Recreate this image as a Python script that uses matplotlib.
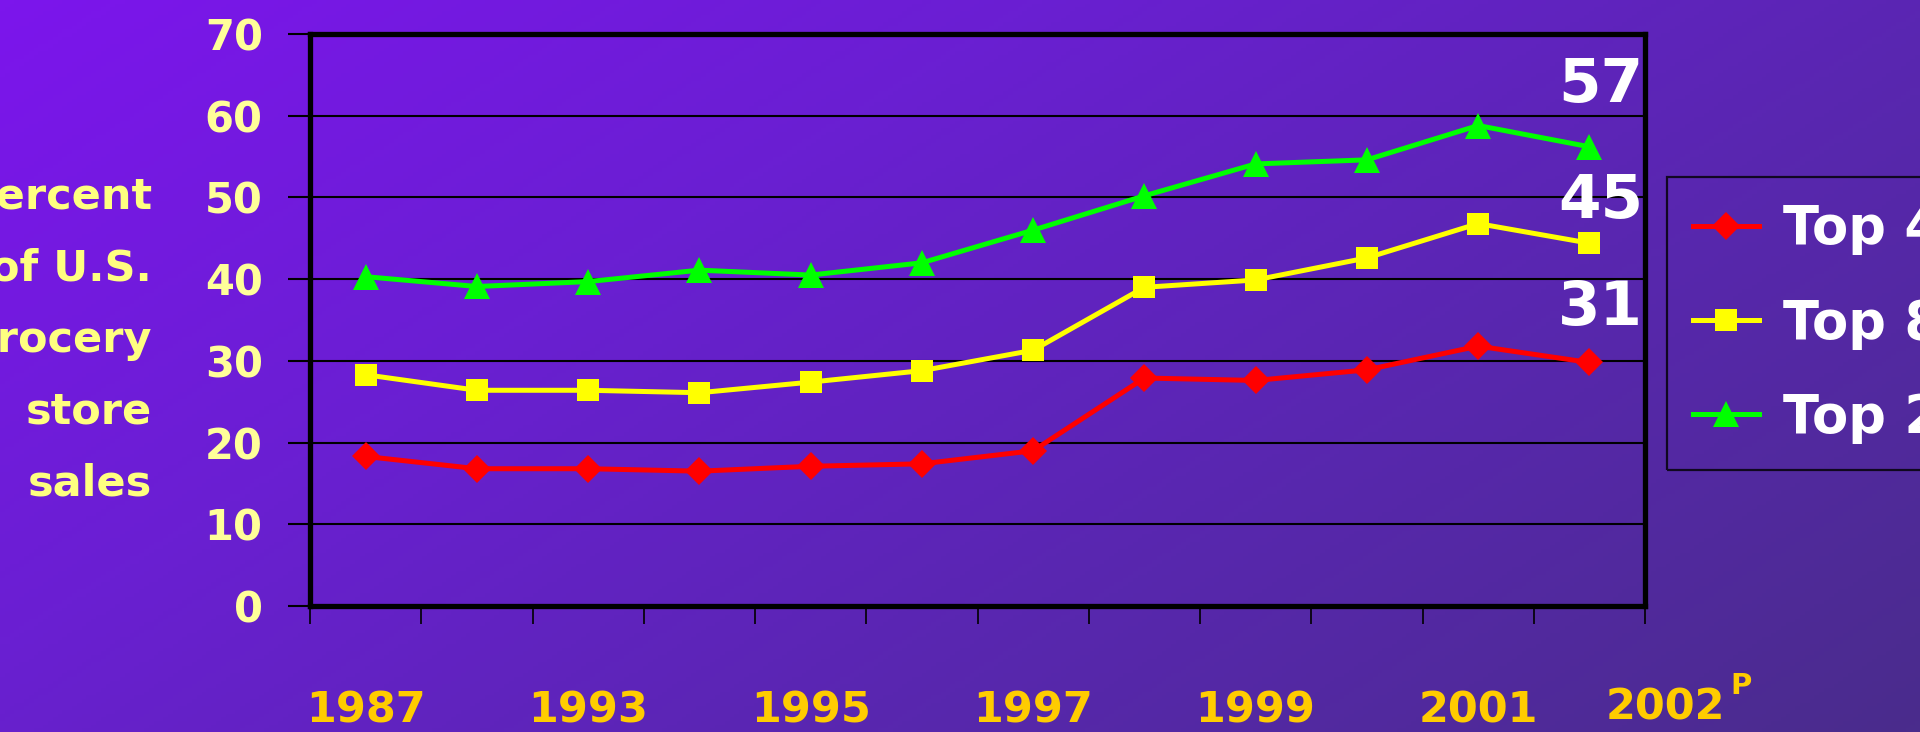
import matplotlib
matplotlib.use("Agg")
import matplotlib.pyplot as plt
import numpy as np
from matplotlib.colors import LinearSegmentedColormap

# data
years = ["1987", "1992", "1993", "1994", "1995", "1996",
         "1997", "1998", "1999", "2000", "2001", "2002"]
shown_years = ["1987", "1993", "1995", "1997", "1999", "2001"]
top4 = [18.3, 16.8, 16.8, 16.5, 17.1, 17.4, 19.0, 27.9, 27.6, 28.9, 31.8, 29.8]
top8 = [28.3, 26.4, 26.4, 26.1, 27.4, 28.8, 31.3, 39.0, 39.9, 42.6, 46.8, 44.4]
top20 = [40.3, 39.1, 39.7, 41.1, 40.5, 42.0, 46.0, 50.2, 54.1, 54.6, 58.8, 56.2]
series_names = ["Top 4", "Top 8", "Top 20"]
end_labels = ["57", "45", "31"]
y_ticks = [0, 10, 20, 30, 40, 50, 60, 70]

FONT = "DejaVu Sans"


def draw_background(fig):
    bg = fig.add_axes([0, 0, 1, 1], zorder=-10)
    xx, yy = np.meshgrid(np.linspace(0, 1, 400), np.linspace(0, 1, 200))
    grad = (xx * 0.62 + yy * 0.38)
    cmap = LinearSegmentedColormap.from_list(
        "slide", ["#7C15EC", "#6A1FD2", "#5827AE", "#4A2C8C"])
    bg.imshow(grad, cmap=cmap, aspect="auto", extent=[0, 1, 0, 1],
              origin="upper")
    bg.axis("off")


def main():
    fig = plt.figure(figsize=(19.2, 7.32), dpi=100)
    draw_background(fig)

    ax = fig.add_axes([310 / 1920, 1 - 606 / 732, 1335 / 1920, 572 / 732])
    ax.set_facecolor("none")
    x = np.arange(len(years))

    styles = [("#FF0000", "D", 14), ("#FFFF00", "s", 16), ("#00FF00", "^", 19)]
    handles = []
    for vals, name, (col, mk, ms) in zip([top4, top8, top20], series_names, styles):
        h, = ax.plot(x, vals, color=col, lw=3.6, marker=mk, ms=ms,
                     markeredgewidth=0, label=name, zorder=5, clip_on=False)
        handles.append(h)

    ax.set_xlim(-0.5, len(years) - 0.5)
    ax.set_ylim(0, 70)
    ax.set_yticks(y_ticks)
    ax.set_yticklabels([str(v) for v in y_ticks], color="#FFFF99",
                       fontsize=30, fontweight="bold", family=FONT)
    ax.yaxis.grid(True, color="black", lw=1.5)
    ax.tick_params(axis="y", length=16, width=1.5, color="black", pad=18)

    pos = [years.index(y) for y in shown_years]
    ax.set_xticks(pos)
    ax.set_xticklabels(shown_years, color="#FFCC00", fontsize=31,
                       fontweight="bold", family=FONT)
    ax.tick_params(axis="x", which="major", length=0, pad=60)
    ax.set_xticks(np.arange(-0.5, len(years)), minor=True)
    ax.tick_params(axis="x", which="minor", length=13, width=1.2,
                   color="black", direction="out")

    for sp in ax.spines.values():
        sp.set_color("black")
        sp.set_linewidth(3.8)

    # values at the end of each line
    for lab, yv in zip(end_labels, [63.7, 49.5, 36.4]):
        ax.text(11.1, yv, lab, color="white", fontsize=44, fontweight="bold",
                family=FONT, ha="center", va="center", zorder=6)

    # 2002 with superscript P sits outside the axes
    fig.text(1665 / 1920, 1 - 708 / 732, "2002", color="#FFCC00", fontsize=31,
             fontweight="bold", family=FONT, ha="center", va="center")
    fig.text(1741 / 1920, 1 - 686 / 732, "P", color="#FFCC00", fontsize=21,
             fontweight="bold", family=FONT, ha="center", va="center")

    fig.text(152 / 1920, 1 - 340 / 732, "Percent\nof U.S.\ngrocery\nstore\nsales",
             color="#FFFF80", fontsize=31, fontweight="bold", family=FONT,
             ha="right", va="center", multialignment="right", linespacing=1.9)

    leg = ax.legend(handles=handles, loc="upper left",
                    bbox_to_anchor=(1667 / 1920, 1 - 177 / 732),
                    bbox_transform=fig.transFigure, borderaxespad=0,
                    fancybox=False, frameon=True, handlelength=1.25,
                    handletextpad=0.45, labelspacing=0.8, borderpad=0.5,
                    prop={"family": FONT, "weight": "bold", "size": 38})
    leg.get_frame().set_facecolor("none")
    leg.get_frame().set_edgecolor("black")
    leg.get_frame().set_linewidth(1.6)
    for t in leg.get_texts():
        t.set_color("white")

    fig.savefig("out.png", dpi=100)


if __name__ == "__main__":
    main()
